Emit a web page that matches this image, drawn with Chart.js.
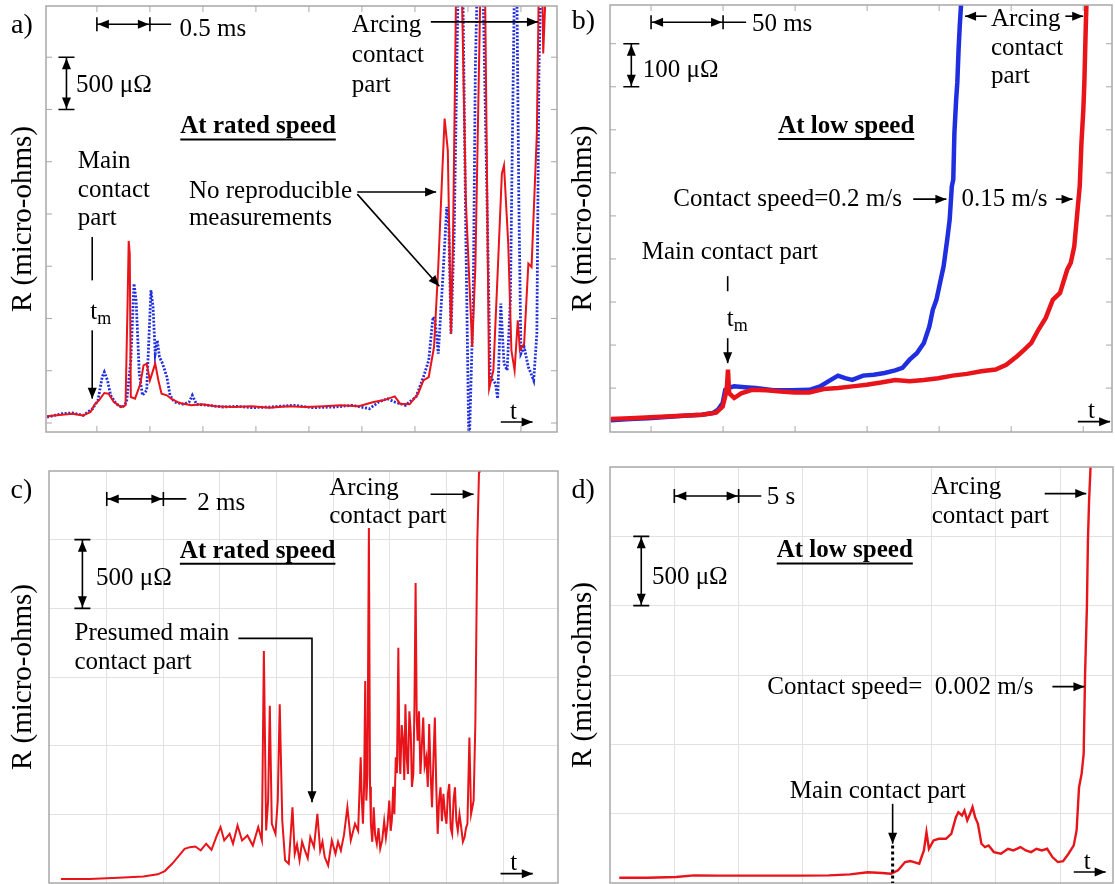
<!DOCTYPE html>
<html>
<head>
<meta charset="utf-8">
<script src="https://cdn.jsdelivr.net/npm/chart.js@4.4.0/dist/chart.umd.min.js"></script>
<style>
  html, body { margin: 0; padding: 0; background: #fff; }
  #wrap { position: relative; width: 1115px; height: 884px; overflow: hidden; }
  canvas { position: absolute; }
</style>
</head>
<body>
<div id="wrap">
  <canvas id="pa" width="560" height="440" style="left:0;top:0"></canvas>
  <canvas id="pb" width="555" height="440" style="left:560px;top:0"></canvas>
  <canvas id="pc" width="560" height="444" style="left:0;top:440px"></canvas>
  <canvas id="pd" width="555" height="444" style="left:560px;top:440px"></canvas>
</div>
<script>
// ---- data: [time, resistance in micro-ohms] ----
// a) rated speed, time in ms
const aRed = [[-0.47,64],[-0.33,80],[-0.23,89],[-0.13,73],[-0.06,105],[-0.02,179],[0.02,217],[0.07,287],[0.11,281],[0.16,201],[0.23,153],[0.27,169],[0.29,1174],[0.30,1742],[0.31,1620],[0.32,249],[0.36,233],[0.41,376],[0.44,552],[0.47,568],[0.50,408],[0.53,504],[0.55,568],[0.58,408],[0.61,281],[0.66,265],[0.70,233],[0.78,191],[0.89,169],[0.99,179],[1.12,160],[1.29,153],[1.46,160],[1.63,147],[1.80,160],[1.97,153],[2.14,160],[2.30,169],[2.47,160],[2.61,201],[2.70,217],[2.81,255],[2.86,185],[2.95,179],[3.03,281],[3.08,408],[3.13,440],[3.18,727],[3.22,1493],[3.26,2450],[3.28,2912],[3.31,2609],[3.34,855],[3.36,1812],[3.39,4300],[3.44,4300],[3.48,2131],[3.54,727],[3.57,1493],[3.62,4300],[3.66,4300],[3.70,329],[3.74,504],[3.78,1429],[3.82,2386],[3.84,2466],[3.88,1716],[3.91,695],[3.94,504],[3.97,983],[3.99,695],[4.03,759],[4.07,1525],[4.10,1493],[4.15,2769],[4.17,4300],[4.20,4300],[4.21,3535],[4.24,4300],[4.34,4300]];
const aBlue = [[-0.47,57],[-0.33,89],[-0.23,96],[-0.13,73],[-0.04,137],[0.01,217],[0.05,440],[0.07,488],[0.10,408],[0.13,265],[0.18,185],[0.24,147],[0.28,201],[0.32,600],[0.35,1333],[0.37,1174],[0.40,472],[0.43,265],[0.47,313],[0.49,791],[0.51,1270],[0.53,1110],[0.55,664],[0.57,791],[0.59,632],[0.62,568],[0.66,440],[0.69,265],[0.73,201],[0.82,179],[0.87,201],[0.90,265],[0.94,179],[1.05,169],[1.19,153],[1.32,160],[1.46,147],[1.63,153],[1.86,169],[2.03,147],[2.24,153],[2.41,169],[2.57,137],[2.66,201],[2.74,233],[2.81,201],[2.91,169],[3.01,249],[3.08,440],[3.13,600],[3.17,1014],[3.19,983],[3.22,664],[3.26,1333],[3.30,2067],[3.32,1876],[3.34,855],[3.37,1812],[3.40,3726],[3.41,4300],[3.45,4300],[3.48,1812],[3.51,-300],[3.55,1174],[3.57,3407],[3.59,4300],[3.64,4300],[3.68,2131],[3.71,440],[3.76,376],[3.78,233],[3.81,1142],[3.84,568],[3.87,504],[3.90,1174],[3.92,2769],[3.94,4300],[3.96,4300],[3.98,2131],[4.00,664],[4.03,727],[4.07,536],[4.12,408],[4.15,855],[4.17,3407],[4.19,4300],[4.34,4300]];
// b) low speed, time in ms
const bBlue = [[-28.1,-75],[-14.4,-72],[-2,-70],[10.4,-67],[22.9,-64],[35.3,-62],[42.8,-58],[46.5,-50],[49.7,-35],[51.5,-4],[53.2,0],[57.7,4],[65.1,2],[72.6,0],[85,-5],[97.5,-5],[110,-4],[117.3,4],[124.8,19],[129.8,29],[134.7,23],[139.7,19],[147.2,29],[154.6,31],[162.1,35],[169.5,41],[174.5,47],[179.5,66],[184.5,81],[189.4,105],[193.2,143],[195.6,182],[198.1,205],[200.6,244],[203.1,283],[205.6,345],[207.3,391],[208.8,469],[209.8,484],[210.6,593],[211.8,670],[212.6,709],[213.5,787],[214.3,841],[216.3,950]];
const bRed = [[-28.1,-72],[-14.4,-70],[10.4,-66],[35.3,-62],[45.2,-57],[49.7,-43],[51.5,-19],[52.7,4],[53.4,43],[54.2,-12],[57.7,-23],[62.6,-12],[70.1,-4],[80,-5],[90,-8],[99.9,-10],[109.9,-10],[119.8,-2],[129.8,0],[139.7,4],[149.7,8],[159.6,13],[169.5,19],[179.5,16],[189.4,19],[199.4,23],[209.3,29],[219.3,33],[229.2,39],[239.2,43],[246.6,54],[254.1,74],[259,89],[264,105],[269,136],[274,163],[278.9,205],[283.9,221],[288.9,275],[291.4,291],[293.8,329],[296.3,422],[297.6,469],[298.8,570],[300.1,647],[300.8,709],[301.8,841],[302.8,950]];
// c) rated speed, time in ms
const cRed = [[-1.62,29],[-0.61,29],[0.41,39],[1.29,48],[1.80,63],[2.05,87],[2.31,140],[2.56,201],[2.75,249],[2.94,261],[3.13,266],[3.32,237],[3.51,286],[3.70,242],[3.89,346],[4.02,407],[4.15,310],[4.34,358],[4.46,286],[4.62,419],[4.78,310],[4.97,346],[5.16,273],[5.35,407],[5.48,310],[5.55,1689],[5.63,382],[5.70,600],[5.76,1290],[5.83,431],[5.96,358],[6.04,600],[6.11,1302],[6.20,455],[6.30,165],[6.43,140],[6.56,552],[6.64,213],[6.72,280],[6.81,165],[6.90,300],[7.00,237],[7.10,180],[7.19,334],[7.32,261],[7.44,503],[7.54,237],[7.62,300],[7.70,189],[7.82,128],[7.95,310],[8.08,213],[8.17,300],[8.27,237],[8.38,350],[8.50,552],[8.62,310],[8.77,431],[8.88,380],[8.97,915],[9.01,600],[9.05,431],[9.09,700],[9.13,1471],[9.17,600],[9.21,794],[9.26,2585],[9.30,700],[9.33,431],[9.38,300],[9.43,552],[9.48,350],[9.54,286],[9.60,400],[9.66,250],[9.73,310],[9.80,450],[9.86,330],[9.92,431],[9.98,600],[10.03,380],[10.07,455],[10.12,700],[10.16,500],[10.21,915],[10.25,800],[10.30,1713],[10.34,900],[10.37,794],[10.42,1150],[10.47,1036],[10.51,750],[10.55,1302],[10.60,900],[10.64,794],[10.69,1250],[10.74,1084],[10.78,700],[10.83,794],[10.87,1300],[10.91,2185],[10.95,1200],[10.98,1036],[11.03,1250],[11.08,794],[11.13,1000],[11.18,1205],[11.23,850],[11.29,915],[11.34,700],[11.39,1157],[11.44,800],[11.49,552],[11.54,900],[11.59,1205],[11.64,700],[11.69,358],[11.74,600],[11.79,697],[11.84,450],[11.89,649],[11.95,500],[12.00,431],[12.05,650],[12.10,721],[12.15,400],[12.20,358],[12.25,600],[12.30,697],[12.35,450],[12.40,382],[12.46,500],[12.52,407],[12.58,300],[12.64,334],[12.69,400],[12.74,431],[12.81,1060],[12.87,503],[12.96,600],[13.02,1157],[13.09,2488],[13.15,2996],[13.18,3150]];
// d) low speed, time in s
const dRed = [[-4.28,38],[-2.07,38],[0.14,43],[1.52,55],[3.45,53],[5.38,53],[7.59,53],[9.80,53],[12.0,55],[13.66,62],[15.04,77],[16.15,72],[16.84,67],[17.39,91],[17.94,151],[18.35,158],[18.63,151],[19.04,139],[19.40,235],[19.60,367],[19.79,247],[20.15,307],[20.56,319],[21.11,319],[21.53,355],[21.89,475],[22.08,511],[22.36,487],[22.55,523],[22.77,451],[22.99,499],[23.18,547],[23.38,475],[23.60,427],[23.87,283],[24.15,259],[24.43,271],[24.84,223],[25.39,211],[25.94,247],[26.36,235],[26.91,259],[27.32,235],[27.74,223],[28.15,247],[28.57,235],[28.98,247],[29.39,187],[29.81,151],[30.22,158],[30.64,211],[31.05,271],[31.27,379],[31.46,691],[31.66,787],[31.82,931],[31.93,1507],[32.07,1987],[32.15,2467],[32.24,2755],[32.35,2990],[32.40,3091]];

// grid / tick positions
const aXTicks = [0, 0.5, 1, 1.5, 2, 2.5, 3, 3.5, 4];
const aYTicks = [0, 500, 1000, 1500, 2000, 2500, 3000, 3500];
const bXTicks = [0, 50, 100, 150, 200, 250, 300];
const bYTicks = [0, 100, 200, 300, 400, 500, 600, 700, 800];
const cXTicks = [0, 2, 4, 6, 8, 10, 12, 14];
const cYTicks = [500, 1000, 1500, 2000, 2500];
const dXTicks = [0, 5, 10, 15, 20, 25, 30];
const dYTicks = [500, 1000, 1500, 2000, 2500];

const RED = '#e8141a';
const BLUE = '#1f2fe0';
const SERIF = '"Liberation Serif", "Times New Roman", serif';

// annotations, in data units of each panel
const notes = {
  pa: [
    {k:'text', x:-0.81, y:3805, s:'a)', size:28},
    {k:'hscale', x1:0, x2:0.5, x3:0.70, y:3815},
    {k:'text', x:0.78, y:3764, s:'0.5 ms'},
    {k:'vscale', x:-0.287, y1:3500, y2:3000},
    {k:'text', x:-0.196, y:3231, s:'500 μΩ'},
    {k:'text', x:1.52, y:2833, s:'At rated speed', bold:true, align:'center'},
    {k:'text', x:-0.18, y:2498, s:'Main'},
    {k:'text', x:-0.18, y:2227, s:'contact'},
    {k:'text', x:-0.18, y:1955, s:'part'},
    {k:'path', pts:[[-0.044,1780],[-0.044,1365]]},
    {k:'text', x:-0.03, y:1062, s:'t', sub:'m', align:'center'},
    {k:'path', pts:[[-0.044,887],[-0.044,233]], head:true},
    {k:'text', x:0.868, y:2220, s:'No reproducible'},
    {k:'text', x:0.868, y:1955, s:'measurements'},
    {k:'path', pts:[[2.456,2211],[3.20,2211]], head:true},
    {k:'path', pts:[[2.456,2190],[3.23,1308]], head:true},
    {k:'text', x:2.405, y:3806, s:'Arcing'},
    {k:'text', x:2.405, y:3519, s:'contact'},
    {k:'text', x:2.405, y:3231, s:'part'},
    {k:'path', pts:[[3.15,3838],[4.16,3838]], head:true},
    {k:'text', x:3.93, y:105, s:'t', align:'center'},
    {k:'path', pts:[[3.81,10],[4.11,10]], head:true}
  ],
  pb: [
    {k:'text', x:-55, y:851, s:'b)', size:28},
    {k:'hscale', x1:0, x2:50, x3:66, y:850},
    {k:'text', x:70, y:845, s:'50 ms'},
    {k:'vscale', x:-13.7, y1:800, y2:700},
    {k:'text', x:-5.7, y:739, s:'100 μΩ'},
    {k:'text', x:135.5, y:608, s:'At low speed', bold:true, align:'center'},
    {k:'text', x:15.4, y:439, s:'Contact speed=0.2 m/s'},
    {k:'path', pts:[[182,439],[205,439]], head:true},
    {k:'text', x:215.5, y:439, s:'0.15 m/s'},
    {k:'path', pts:[[281,439],[292.6,439]], head:true},
    {k:'text', x:-6.5, y:315, s:'Main contact part'},
    {k:'path', pts:[[53.2,260],[53.2,225]]},
    {k:'text', x:55, y:159, s:'t', sub:'m', align:'center'},
    {k:'path', pts:[[53.2,116],[53.2,58]], head:true},
    {k:'text', x:236, y:856, s:'Arcing'},
    {k:'text', x:236, y:790, s:'contact'},
    {k:'text', x:236, y:725, s:'part'},
    {k:'path', pts:[[233,864],[218,864]], head:true},
    {k:'path', pts:[[287.6,864],[300,864]], head:true},
    {k:'text', x:305.8, y:-54, s:'t', align:'center'},
    {k:'path', pts:[[296.3,-78],[318.7,-78]], head:true}
  ],
  pc: [
    {k:'text', x:-3.40, y:2856, s:'c)', size:28},
    {k:'hscale', x1:0, x2:2, x3:2.81, y:2797},
    {k:'text', x:3.20, y:2766, s:'2 ms'},
    {k:'vscale', x:-0.86, y1:2500, y2:2000},
    {k:'text', x:-0.38, y:2217, s:'500 μΩ'},
    {k:'text', x:5.33, y:2415, s:'At rated speed', bold:true, align:'center'},
    {k:'text', x:-1.14, y:1815, s:'Presumed main'},
    {k:'text', x:-1.14, y:1604, s:'contact part'},
    {k:'path', pts:[[4.65,1781],[7.25,1781],[7.25,588]], head:true},
    {k:'text', x:7.86, y:2875, s:'Arcing'},
    {k:'text', x:7.86, y:2669, s:'contact part'},
    {k:'path', pts:[[11.44,2831],[12.96,2831]], head:true},
    {k:'text', x:14.38, y:140, s:'t', align:'center'},
    {k:'path', pts:[[13.91,68],[15.05,68]], head:true}
  ],
  pd: [
    {k:'text', x:-8.0, y:2827, s:'d)', size:28},
    {k:'hscale', x1:0, x2:5, x3:6.76, y:2791},
    {k:'text', x:7.18, y:2779, s:'5 s'},
    {k:'vscale', x:-2.57, y1:2500, y2:2000},
    {k:'text', x:-1.74, y:2203, s:'500 μΩ'},
    {k:'text', x:13.25, y:2395, s:'At low speed', bold:true, align:'center'},
    {k:'text', x:7.23, y:1411, s:'Contact speed=  0.002 m/s'},
    {k:'path', pts:[[29.39,1416],[31.88,1416]], head:true},
    {k:'text', x:8.97, y:662, s:'Main contact part'},
    {k:'path', pts:[[16.97,571],[16.97,283]], head:true},
    {k:'path', pts:[[16.97,271],[16.97,0]], dash:[3,3], width:3},
    {k:'text', x:20.01, y:2856, s:'Arcing'},
    {k:'text', x:20.01, y:2647, s:'contact part'},
    {k:'path', pts:[[28.79,2808],[32.02,2808]], head:true},
    {k:'text', x:32.1, y:151, s:'t', align:'center'},
    {k:'path', pts:[[31.05,79],[33.53,79]], head:true}
  ]
};

function arrowHead(ctx, x0, y0, x1, y1) {
  const a = Math.atan2(y1 - y0, x1 - x0), L = 11, W = 4.5;
  ctx.beginPath();
  ctx.moveTo(x1, y1);
  ctx.lineTo(x1 - L * Math.cos(a) + W * Math.sin(a), y1 - L * Math.sin(a) - W * Math.cos(a));
  ctx.lineTo(x1 - L * Math.cos(a) - W * Math.sin(a), y1 - L * Math.sin(a) + W * Math.cos(a));
  ctx.closePath();
  ctx.fill();
}

const notesPlugin = {
  id: 'notes',
  afterDraw(chart) {
    const ctx = chart.ctx, xs = chart.scales.x, ys = chart.scales.y, ar = chart.chartArea;
    const px = v => xs.getPixelForValue(v), py = v => ys.getPixelForValue(v);
    const inward = chart.canvas.id === 'pa' || chart.canvas.id === 'pb';
    ctx.save();
    // frame
    ctx.strokeStyle = '#a8a8a8';
    ctx.lineWidth = 1.5;
    ctx.strokeRect(ar.left, ar.top, ar.right - ar.left, ar.bottom - ar.top);
    if (inward) {
      ctx.lineWidth = 1;
      ctx.beginPath();
      xs.ticks.forEach(t => {
        const x = px(t.value);
        ctx.moveTo(x, ar.bottom); ctx.lineTo(x, ar.bottom - 6);
        ctx.moveTo(x, ar.top); ctx.lineTo(x, ar.top + 6);
      });
      ys.ticks.forEach(t => {
        const y = py(t.value);
        ctx.moveTo(ar.left, y); ctx.lineTo(ar.left + 6, y);
        ctx.moveTo(ar.right, y); ctx.lineTo(ar.right - 6, y);
      });
      ctx.stroke();
    }
    ctx.fillStyle = '#000';
    ctx.strokeStyle = '#000';
    ctx.lineCap = 'butt';
    notes[chart.canvas.id].forEach(n => {
      ctx.lineWidth = n.width || 1.6;
      ctx.setLineDash(n.dash || []);
      if (n.k === 'text') {
        const size = n.size || 25;
        ctx.font = (n.bold ? 'bold ' : '') + size + 'px ' + SERIF;
        ctx.textBaseline = 'middle';
        let x = px(n.x), y = py(n.y);
        const w = ctx.measureText(n.s).width;
        let left = n.align === 'center' ? x - w / 2 : x;
        ctx.textAlign = 'left';
        ctx.fillText(n.s, left, y);
        if (n.sub) {
          ctx.font = Math.round(size * 0.7) + 'px ' + SERIF;
          ctx.fillText(n.sub, left + w, y + size * 0.28);
        }
        if (n.bold) {
          ctx.lineWidth = 2;
          ctx.beginPath();
          ctx.moveTo(left, y + size * 0.5);
          ctx.lineTo(left + w, y + size * 0.5);
          ctx.stroke();
        }
      } else if (n.k === 'path') {
        ctx.beginPath();
        n.pts.forEach((p, i) => i ? ctx.lineTo(px(p[0]), py(p[1])) : ctx.moveTo(px(p[0]), py(p[1])));
        ctx.stroke();
        ctx.setLineDash([]);
        if (n.head) {
          const a = n.pts[n.pts.length - 2], b = n.pts[n.pts.length - 1];
          arrowHead(ctx, px(a[0]), py(a[1]), px(b[0]), py(b[1]));
        }
      } else if (n.k === 'hscale') {
        const x1 = px(n.x1), x2 = px(n.x2), x3 = px(n.x3), y = py(n.y);
        ctx.beginPath();
        ctx.moveTo(x1, y); ctx.lineTo(x3, y);
        ctx.moveTo(x1, y - 7); ctx.lineTo(x1, y + 7);
        ctx.moveTo(x2, y - 7); ctx.lineTo(x2, y + 7);
        ctx.stroke();
        arrowHead(ctx, x2, y, x1 + 1, y);
        arrowHead(ctx, x1, y, x2 - 1, y);
      } else if (n.k === 'vscale') {
        const x = px(n.x), y1 = py(n.y1), y2 = py(n.y2);
        ctx.beginPath();
        ctx.moveTo(x, y1); ctx.lineTo(x, y2);
        ctx.moveTo(x - 8, y1); ctx.lineTo(x + 8, y1);
        ctx.moveTo(x - 8, y2); ctx.lineTo(x + 8, y2);
        ctx.stroke();
        arrowHead(ctx, x, y2, x, y1 + 1);
        arrowHead(ctx, x, y1, x, y2 - 1);
      }
    });
    ctx.restore();
  }
};

function toPts(arr) { return arr.map(p => ({x: p[0], y: p[1]})); }

function makePanel(id, sets, xr, yr, xTicks, yTicks, pad, leftW, grid) {
  return new Chart(document.getElementById(id), {
    type: 'line',
    data: { datasets: sets },
    options: {
      responsive: false,
      animation: false,
      devicePixelRatio: 1,
      layout: { padding: { left: 0, top: pad[0], right: pad[1], bottom: pad[2] } },
      plugins: { legend: { display: false }, tooltip: { enabled: false } },
      elements: { point: { radius: 0 }, line: { tension: 0 } },
      scales: {
        x: {
          type: 'linear', min: xr[0], max: xr[1],
          afterBuildTicks: ax => { ax.ticks = xTicks.map(v => ({value: v})); },
          afterFit: ax => { ax.height = 0; },
          ticks: { display: false },
          grid: { display: grid, drawTicks: false, color: '#e2e2e2', lineWidth: 1 },
          border: { display: false }
        },
        y: {
          type: 'linear', min: yr[0], max: yr[1],
          afterBuildTicks: ax => { ax.ticks = yTicks.map(v => ({value: v})); },
          afterFit: ax => { ax.width = leftW; },
          ticks: { display: false },
          grid: { display: grid, drawTicks: false, color: '#e2e2e2', lineWidth: 1 },
          border: { display: false },
          title: { display: true, text: 'R (micro-ohms)', color: '#000',
                   font: { family: SERIF, size: 29 }, padding: { top: 6, bottom: 0 } }
        }
      }
    },
    plugins: [notesPlugin]
  });
}

makePanel('pa', [
  { data: toPts(aRed), borderColor: RED, borderWidth: 2 },
  { data: toPts(aBlue), borderColor: BLUE, borderWidth: 2.8, borderDash: [2, 1.6] }
], [-0.48, 4.34], [-86, 3990], aXTicks, aYTicks, [6, 3, 8], 46, false);

makePanel('pb', [
  { data: toPts(bRed), borderColor: RED, borderWidth: 4.5 },
  { data: toPts(bBlue), borderColor: BLUE, borderWidth: 4.5 }
], [-28.5, 320], [-102, 890], bXTicks, bYTicks, [5, 3, 8], 50, false);

makePanel('pc', [
  { data: toPts(cRed), borderColor: RED, borderWidth: 2 }
], [-2.04, 15.94], [0, 3000], cXTicks, cYTicks, [31, 2, 1], 49, true);

makePanel('pd', [
  { data: toPts(dRed), borderColor: RED, borderWidth: 2.4 }
], [-5.0, 34.1], [0, 3000], dXTicks, dYTicks, [27, 2, 1], 50, true);
</script>
</body>
</html>
